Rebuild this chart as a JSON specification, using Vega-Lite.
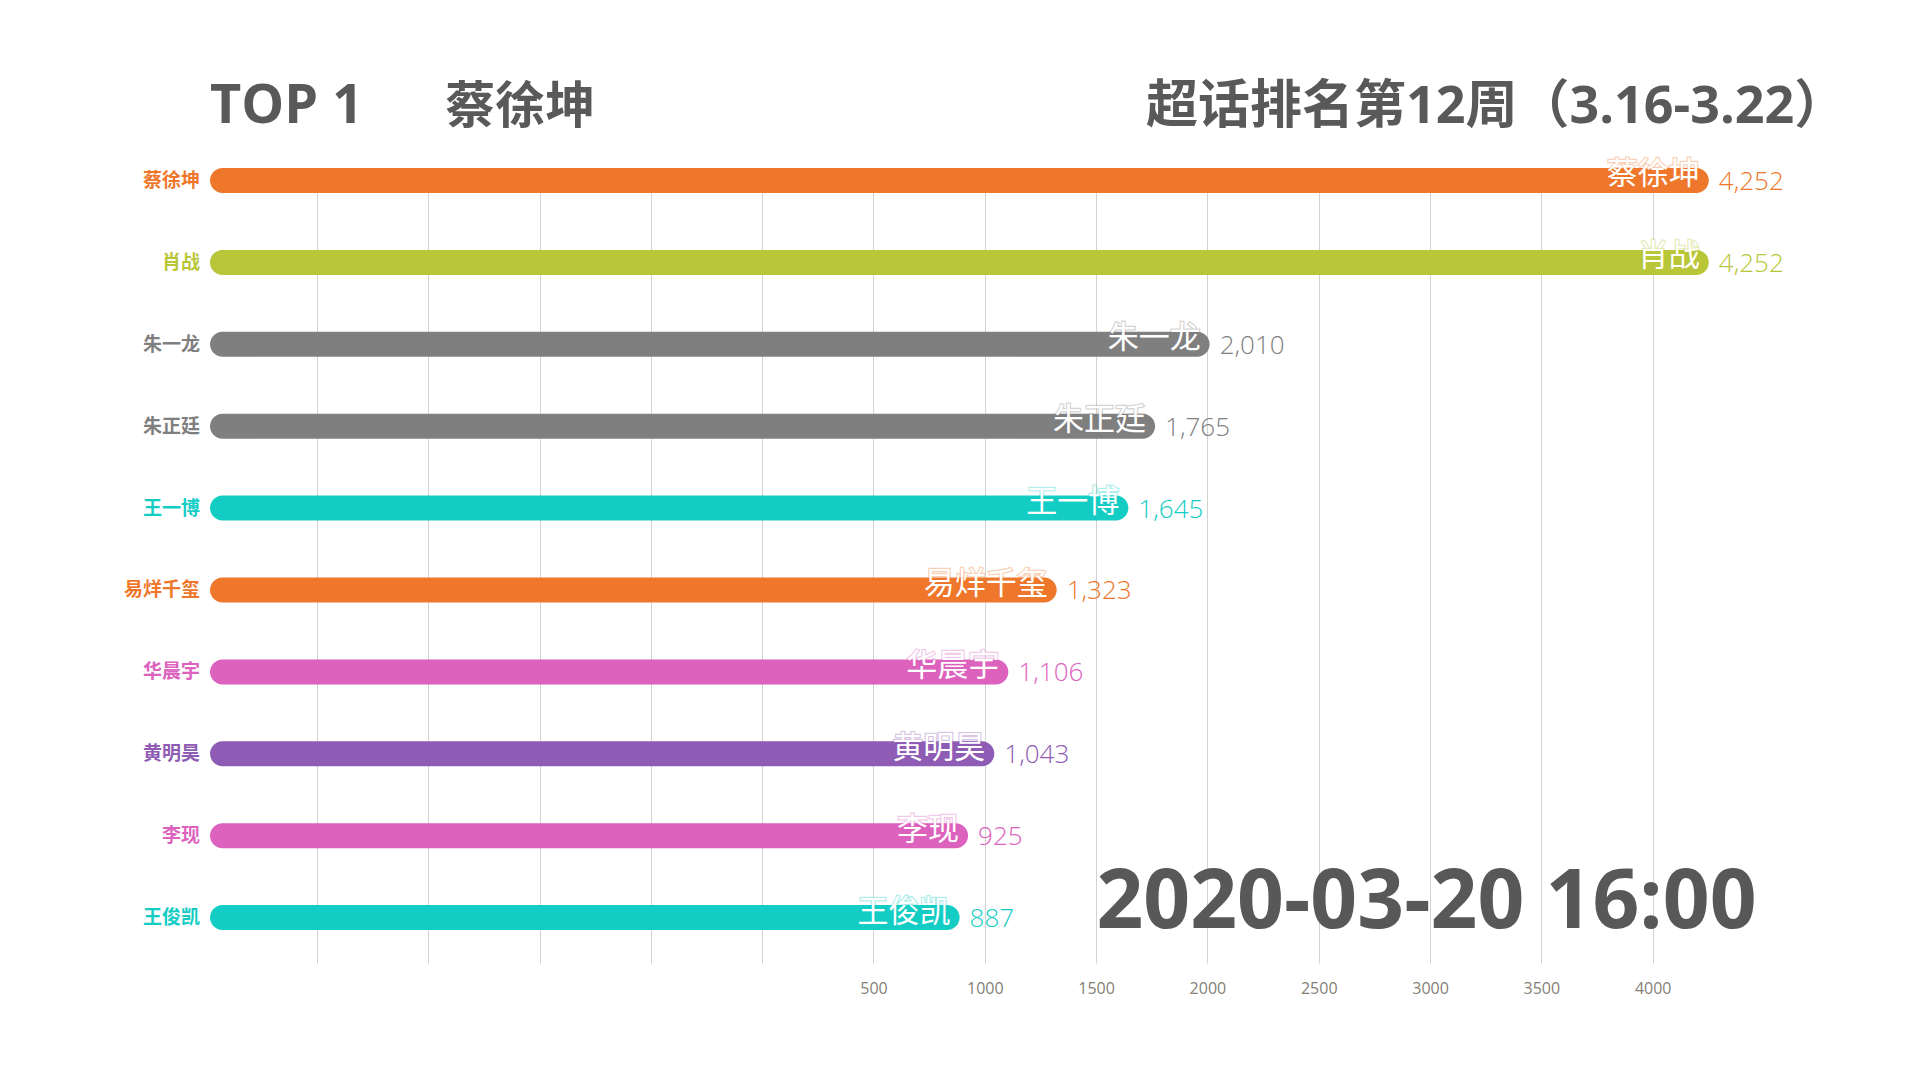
{
  "$schema": "https://vega.github.io/schema/vega-lite/v6.json",
  "width": 1554,
  "height": 795,
  "autosize": {"type": "none"},
  "padding": {"left": 210, "top": 168, "right": 156, "bottom": 117},
  "background": "#ffffff",
  "config": {"view": {"stroke": null}},
  "data": {
    "values": [
      {"name": "蔡徐坤", "value": 4252},
      {"name": "肖战", "value": 4252},
      {"name": "朱一龙", "value": 2010},
      {"name": "朱正廷", "value": 1765},
      {"name": "王一博", "value": 1645},
      {"name": "易烊千玺", "value": 1323},
      {"name": "华晨宇", "value": 1106},
      {"name": "黄明昊", "value": 1043},
      {"name": "李现", "value": 925},
      {"name": "王俊凯", "value": 887}
    ]
  },
  "encoding": {
    "y": {
      "field": "name",
      "type": "nominal",
      "sort": null,
      "axis": null,
      "scale": {"type": "band", "paddingInner": 0.695, "paddingOuter": 0.201, "align": 0}
    }
  },
  "layer": [
    {
      "mark": {"type": "bar", "cornerRadius": 12.5},
      "encoding": {
        "x": {
          "field": "value",
          "type": "quantitative",
          "scale": {"domain": [-2480, 4500], "nice": false, "zero": false},
          "axis": {
            "title": null,
            "orient": "bottom",
            "values": [-2000, -1500, -1000, -500, 0, 500, 1000, 1500, 2000, 2500, 3000, 3500, 4000],
            "format": "d",
            "labelExpr": "datum.value > 0 ? datum.label : ''",
            "domain": false,
            "ticks": false,
            "grid": true,
            "gridColor": "#d2d2d2",
            "gridWidth": 1,
            "labelPadding": 17,
            "labelFont": "Open Sans",
            "labelFontSize": 16,
            "labelColor": "#857f76",
            "labelFlush": false,
            "labelOverlap": false
          }
        },
        "x2": {"datum": -2480},
        "color": {
          "field": "name",
          "type": "nominal",
          "legend": null,
          "scale": {
            "domain": ["蔡徐坤", "肖战", "朱一龙", "朱正廷", "王一博", "易烊千玺", "华晨宇", "黄明昊", "李现", "王俊凯"],
            "range": ["#ef772b", "#b8c637", "#7f7f7f", "#7f7f7f", "#13cdc5", "#ef772b", "#dc62be", "#8e5cb5", "#dc62be", "#13cdc5"]
          }
        }
      }
    },
    {
      "mark": {"type": "text", "align": "right", "baseline": "alphabetic", "dx": -10, "dy": 6.5, "font": "Noto Sans CJK SC", "fontWeight": "bold", "fontSize": 19},
      "encoding": {
        "x": {"datum": -2480},
        "text": {"field": "name"},
        "color": {"field": "name", "type": "nominal", "legend": null}
      }
    },
    {
      "mark": {"type": "text", "align": "right", "baseline": "alphabetic", "dx": -9, "dy": 4, "font": "Noto Sans CJK SC", "fontSize": 31, "fillOpacity": 0, "strokeWidth": 2.5, "strokeOpacity": 0.35},
      "encoding": {
        "x": {"field": "value", "type": "quantitative"},
        "text": {"field": "name"},
        "stroke": {
          "field": "name",
          "type": "nominal",
          "legend": null,
          "scale": {
            "domain": ["蔡徐坤", "肖战", "朱一龙", "朱正廷", "王一博", "易烊千玺", "华晨宇", "黄明昊", "李现", "王俊凯"],
            "range": ["#ef772b", "#b8c637", "#7f7f7f", "#7f7f7f", "#13cdc5", "#ef772b", "#dc62be", "#8e5cb5", "#dc62be", "#13cdc5"]
          }
        }
      }
    },
    {
      "mark": {"type": "text", "align": "right", "baseline": "alphabetic", "dx": -9, "dy": 4, "font": "Noto Sans CJK SC", "fontSize": 31, "fill": "#ffffff"},
      "encoding": {
        "x": {"field": "value", "type": "quantitative"},
        "text": {"field": "name"}
      }
    },
    {
      "mark": {"type": "text", "align": "left", "baseline": "alphabetic", "dx": 10, "dy": 9.5, "font": "Open Sans", "fontWeight": 300, "fontSize": 26},
      "encoding": {
        "x": {"field": "value", "type": "quantitative"},
        "text": {"field": "value", "type": "quantitative", "format": ","},
        "color": {"field": "name", "type": "nominal", "legend": null}
      }
    },
    {
      "data": {"values": [{"label": "TOP 1"}]},
      "mark": {"type": "text", "align": "left", "baseline": "alphabetic", "dy": -57.5, "font": "Open Sans", "fontWeight": "bold", "fontSize": 54, "color": "#595959"},
      "encoding": {
        "x": {"datum": -2480},
        "y": {"datum": "蔡徐坤"},
        "text": {"field": "label"}
      }
    },
    {
      "data": {"values": [{"label": "蔡徐坤"}]},
      "mark": {"type": "text", "align": "left", "baseline": "alphabetic", "dy": -57.5, "font": "Noto Sans CJK SC", "fontWeight": "bold", "fontSize": 50, "color": "#595959"},
      "encoding": {
        "x": {"datum": -1423},
        "y": {"datum": "蔡徐坤"},
        "text": {"field": "label"}
      }
    },
    {
      "data": {"values": [{"label": "超话排名第12周（3.16-3.22）"}]},
      "mark": {"type": "text", "align": "center", "baseline": "alphabetic", "dy": -57.5, "font": "Open Sans, Noto Sans CJK SC", "fontWeight": "bold", "fontSize": 52, "color": "#595959"},
      "encoding": {
        "x": {"datum": 3297},
        "y": {"datum": "蔡徐坤"},
        "text": {"field": "label"}
      }
    },
    {
      "data": {"values": [{"label": "2020-03-20 16:00"}]},
      "mark": {"type": "text", "align": "center", "baseline": "alphabetic", "dy": 10, "font": "Open Sans", "fontWeight": "bold", "fontSize": 82, "color": "#585858"},
      "encoding": {
        "x": {"datum": 2984},
        "y": {"datum": "王俊凯"},
        "text": {"field": "label"}
      }
    }
  ]
}
